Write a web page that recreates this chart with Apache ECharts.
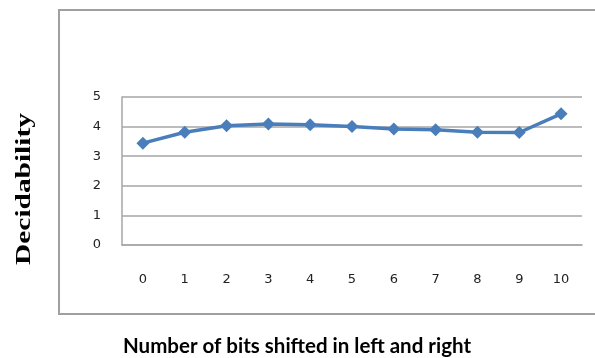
<!DOCTYPE html>
<html><head><meta charset="utf-8">
<script src="https://cdn.jsdelivr.net/npm/echarts@6/dist/echarts.min.js"></script>
<style>html,body{margin:0;padding:0;background:#fff}#c{width:595px;height:358px}</style>
</head><body><div id="c"></div>
<script>
const categories = ['0','1','2','3','4','5','6','7','8','9','10'];
const decidability = [3.44, 3.81, 4.03, 4.09, 4.06, 4.00, 3.92, 3.89, 3.81, 3.80, 4.43];
const yTicks = [0, 1, 2, 3, 4, 5];
const xTitle = 'Number of bits shifted in left and right';
const yTitle = 'Decidability';

const chart = echarts.init(document.getElementById('c'), null, {renderer: 'canvas'});
chart.setOption({
  animation: false,
  backgroundColor: '#fff',
  grid: {left: 122, right: 13, top: 97, bottom: 113, containLabel: false},
  xAxis: {
    type: 'category', data: categories, boundaryGap: true,
    axisLine: {show: true, lineStyle: {color: '#a6a6a6', width: 1.5}},
    axisTick: {show: false},
    axisLabel: {color: '#222', fontSize: 13, fontFamily: 'DejaVu Sans', margin: 28}
  },
  yAxis: {
    type: 'value', min: yTicks[0], max: yTicks[yTicks.length-1], interval: 1,
    axisLine: {show: true, lineStyle: {color: '#a6a6a6', width: 1.5}},
    axisTick: {show: false},
    splitLine: {show: true, lineStyle: {color: '#a6a6a6', width: 1.5}},
    axisLabel: {color: '#222', fontSize: 13, fontFamily: 'DejaVu Sans', margin: 21}
  },
  graphic: [
    {type: 'rect', shape: {x: 59, y: 10, width: 560, height: 304},
     style: {fill: 'none', stroke: '#a0a0a0', lineWidth: 2}, z: -1},
    {type: 'text', x: 297, y: 346,
     style: {text: xTitle, font: 'bold 20.5px Lato, "Liberation Sans", sans-serif', fill: '#000', align: 'center', verticalAlign: 'middle'}},
    {type: 'text', x: 25, y: 189, rotation: Math.PI/2, scaleX: 1.4,
     style: {text: yTitle, font: 'bold 21px "Liberation Serif", "DejaVu Serif", serif', fill: '#000', align: 'center', verticalAlign: 'middle'}}
  ],
  series: [{
    type: 'line', data: decidability,
    symbol: 'diamond', symbolSize: 13,
    lineStyle: {color: '#4a7ebb', width: 3.5},
    itemStyle: {color: '#4a7ebb'}
  }]
});
</script></body></html>
